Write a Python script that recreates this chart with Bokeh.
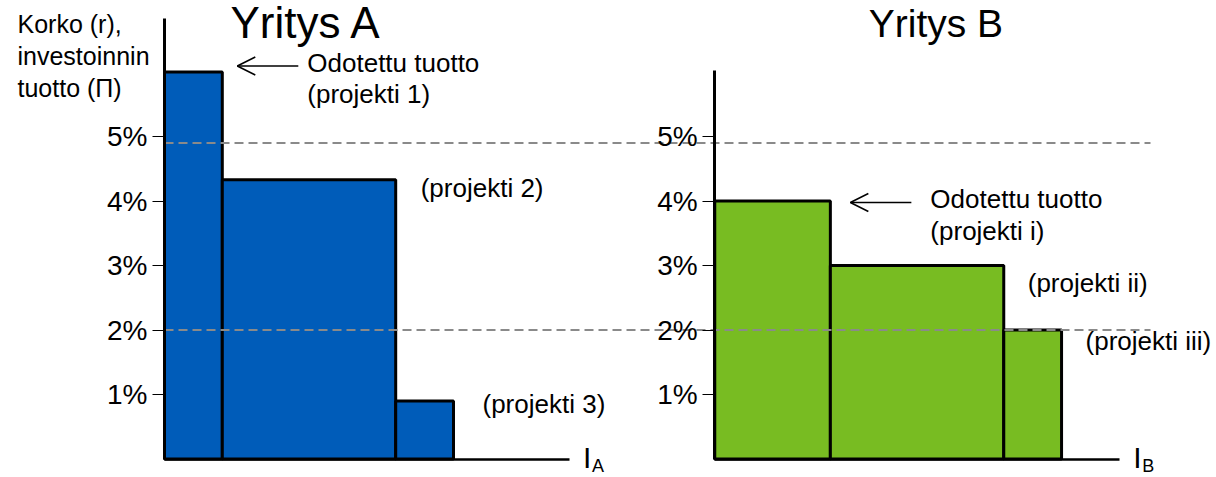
from itertools import accumulate

from bokeh.core.properties import value
from bokeh.embed import file_html
from bokeh.models import (Arrow, ColumnDataSource, FixedTicker, LinearAxis,
                          OpenHead, Range1d)
from bokeh.plotting import figure
from bokeh.resources import INLINE

# ---- data -------------------------------------------------------------
rate_ticks = [1, 2, 3, 4, 5]
rate_labels = ["1%", "2%", "3%", "4%", "5%"]

firm_a = "Yritys A"
projects_a = ["(projekti 1)", "(projekti 2)", "(projekti 3)"]
sizes_a = [1, 3, 1]            # investment size of each project
returns_a = [6.0, 4.33, 0.9]   # expected return, %

firm_b = "Yritys B"
projects_b = ["(projekti i)", "(projekti ii)", "(projekti iii)"]
sizes_b = [2, 3, 1]
returns_b = [4.0, 3.0, 2.0]

interest_levels = [4.9, 2.0]   # interest rate levels, %

y_title = ["Korko (r),", "investoinnin", "tuotto (\u03a0)"]
expected_note = "Odotettu tuotto"

# ---- layout -----------------------------------------------------------
W, H = 1216, 477
LEFT = 164                 # px from the page edge to firm A's axis
PX_X = 57.8                # px per investment unit
PX_Y = 64.5                # px per percentage point
BASE = 458.5               # px from the top to the zero line
ORIGIN_B = 9.52            # x position of firm B's axis
AXIS_LEN = 7               # length of each investment axis
FONT = value("Liberation Sans")


def ux(px):
    return px / PX_X


def uy(px):
    return px / PX_Y


def lift(size):
    # the renderer sets alphabetic text a little low; raise it back
    return uy(0.38 * size)


p = figure(width=W, height=H, output_backend="svg", toolbar_location=None,
           x_axis_location=None, y_axis_location=None,
           x_range=Range1d(-LEFT / PX_X, (W - LEFT) / PX_X),
           y_range=Range1d(-(H - BASE) / PX_Y, BASE / PX_Y),
           min_border_left=0, min_border_right=0,
           min_border_top=0, min_border_bottom=0,
           outline_line_color=None, background_fill_color="white",
           border_fill_color="white")
p.xgrid.grid_line_color = None
p.ygrid.grid_line_color = None


def add_axes(origin, top):
    yax = LinearAxis(fixed_location=origin, bounds=(0, top),
                     ticker=FixedTicker(ticks=rate_ticks),
                     major_label_overrides=dict(zip(rate_ticks, rate_labels)))
    yax.axis_line_width = 3
    yax.axis_line_color = "black"
    yax.major_tick_in = 0
    yax.major_tick_out = 12
    yax.major_tick_line_width = 1.2
    yax.minor_tick_out = 0
    yax.minor_tick_in = 0
    yax.major_label_standoff = 5
    yax.major_label_text_font = "Liberation Sans"
    yax.major_label_text_font_size = "28px"
    yax.major_label_text_color = "black"
    p.add_layout(yax, "left")

    xax = LinearAxis(fixed_location=0, bounds=(origin, origin + AXIS_LEN),
                     ticker=FixedTicker(ticks=[]))
    xax.axis_line_width = 2.5
    xax.axis_line_color = "black"
    xax.major_tick_line_color = None
    xax.minor_tick_line_color = None
    xax.major_label_text_font_size = "0px"
    p.add_layout(xax, "below")


def add_bars(origin, sizes, returns, color):
    rights = [origin + s for s in accumulate(sizes)]
    lefts = [r - s for r, s in zip(rights, sizes)]
    src = ColumnDataSource(dict(left=lefts, right=rights,
                                top=returns, bottom=[0] * len(sizes)))
    p.quad(left="left", right="right", top="top", bottom="bottom",
           source=src, fill_color=color, line_color="black", line_width=3)
    return rights


add_axes(0, uy(BASE - 18))
add_axes(ORIGIN_B, uy(BASE - 70))
rights_a = add_bars(0, sizes_a, returns_a, "#005cb9")
rights_b = add_bars(ORIGIN_B, sizes_b, returns_b, "#78bc22")

# interest rate levels across both firms
n = len(interest_levels)
p.segment(x0=[0] * n, x1=[ux(1150 - LEFT)] * n,
          y0=interest_levels, y1=interest_levels,
          line_color="#8a8a8a", line_width=2, line_dash="9 5")

# arrows to the highest-return project of each firm
for r, t, dy, off in ((rights_a[0], returns_a[0], uy(6), 15),
                      (rights_b[0], returns_b[0], -uy(1.5), 20)):
    p.add_layout(Arrow(end=OpenHead(size=18, line_width=1.5,
                                    line_color="black"),
                       x_start=r + ux(off + 61), x_end=r + ux(off),
                       y_start=t + dy, y_end=t + dy,
                       line_width=1.5, line_color="black"))


def put_text(xs, ys, texts, size):
    p.text(x=xs, y=[y + lift(size) for y in ys], text=texts,
           text_font=FONT, text_font_size=f"{size}px", text_color="black",
           text_baseline="alphabetic", text_align="left")


# project labels
lx, ly, lt = [], [], []
# firm A
lx += [rights_a[0] + ux(85)] * 2
ly += [returns_a[0] - uy(0.5), returns_a[0] - uy(31.5)]
lt += [expected_note, projects_a[0]]
lx += [rights_a[1] + ux(25), rights_a[2] + ux(29)]
ly += [returns_a[1] - uy(18), returns_a[2] - uy(12.5)]
lt += [projects_a[1], projects_a[2]]
# firm B
lx += [rights_b[0] + ux(100)] * 2
ly += [returns_b[0] - uy(7.5), returns_b[0] - uy(39.5)]
lt += [expected_note, projects_b[0]]
lx += [rights_b[1] + ux(24), rights_b[2] + ux(24)]
ly += [returns_b[1] - uy(27), returns_b[2] - uy(20.5)]
lt += [projects_b[1], projects_b[2]]
put_text(lx, ly, lt, 26)

# firm titles
put_text([ux(66)], [uy(BASE - 39)], [firm_a], 44)
put_text([ORIGIN_B + ux(154)], [uy(BASE - 38)], [firm_b], 39)

# rate axis title
put_text([-ux(147)] * 3, [uy(BASE - b) for b in (33, 65, 97)], y_title, 25)

# investment axis labels I_A, I_B
ends = [AXIS_LEN, ORIGIN_B + AXIS_LEN]
put_text([e + ux(14) for e in ends], [-uy(9.5)] * 2, ["I", "I"], 30)
put_text([e + ux(23) for e in ends], [-uy(13.5)] * 2, ["A", "B"], 18)

open("out.html", "w").write(file_html(p, INLINE))
